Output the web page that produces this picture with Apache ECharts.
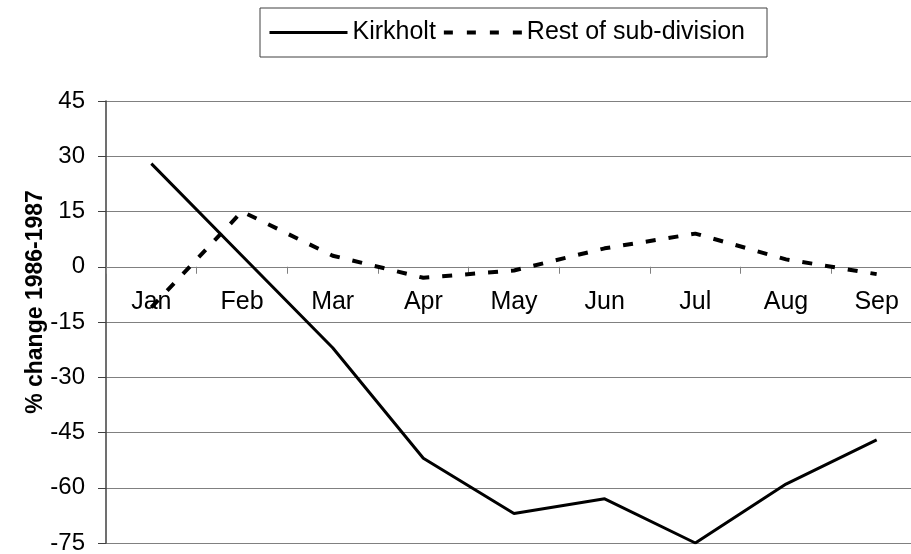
<!DOCTYPE html>
<html>
<head>
<meta charset="utf-8">
<script src="https://cdn.jsdelivr.net/npm/echarts@6/dist/echarts.min.js"></script>
<style>
  html, body { margin: 0; padding: 0; background: #fff; }
  #chart { width: 911px; height: 554px; }
</style>
</head>
<body>
<div id="chart"></div>
<script>
// values
var months = ['Jan', 'Feb', 'Mar', 'Apr', 'May', 'Jun', 'Jul', 'Aug', 'Sep'];
var kirkholt = [28, 3, -22, -52, -67, -63, -75, -59, -47];
var restOfSubDivision = [-11, 15, 3, -3, -1, 5, 9, 2, -2];

var font = '"Liberation Sans", Arial, sans-serif';
var yMin = -75, yMax = 45;
var gridTop = 101, gridBottom = 11;
// move the category axis up to the zero line
var plotH = 554 - gridTop - gridBottom;
var zeroOffset = -plotH * (0 - yMin) / (yMax - yMin);

var myChart = echarts.init(document.getElementById('chart'));
myChart.setOption({
    animation: false,
    backgroundColor: '#fff',
    legend: {
        left: 260,
        top: 8,
        padding: [12, 22, 12, 8],
        itemWidth: 78,
        itemHeight: 14,
        itemGap: 6,
        borderColor: '#404040',
        borderWidth: 1,
        itemStyle: { opacity: 0 },
        textStyle: { fontSize: 25, color: '#000', fontFamily: font },
        data: [
            { name: 'Kirkholt', lineStyle: { width: 3, color: '#000' } },
            { name: 'Rest of sub-division', lineStyle: { width: 4, color: '#000', type: [9, 14] } }
        ]
    },
    grid: {
        left: 106,
        right: -11,
        top: gridTop,
        bottom: gridBottom,
        outerBoundsMode: 'none'
    },
    xAxis: {
        type: 'category',
        data: months,
        boundaryGap: true,
        position: 'bottom',
        offset: zeroOffset,
        axisLine: { onZero: false, lineStyle: { color: '#808080', width: 1 } },
        axisTick: { show: true, interval: 0, length: 7, alignWithLabel: false, lineStyle: { color: '#808080' } },
        axisLabel: { margin: 23, fontSize: 25, color: '#000', fontFamily: font, interval: 0 },
        splitLine: { show: false }
    },
    yAxis: {
        type: 'value',
        min: yMin,
        max: yMax,
        interval: 15,
        name: '% change 1986-1987',
        nameLocation: 'middle',
        nameGap: 59,
        nameMoveOverlap: false,
        nameTextStyle: { fontSize: 23, fontWeight: 'bold', color: '#000', fontFamily: font, padding: [0, 0, 0, 40] },
        axisLine: { show: true, lineStyle: { color: '#404040', width: 1.5 } },
        axisTick: { show: true, length: 8, lineStyle: { color: '#404040' } },
        axisLabel: { margin: 21, fontSize: 24, color: '#000', fontFamily: font },
        splitLine: { show: true, lineStyle: { color: '#808080', width: 1 } }
    },
    series: [
        {
            name: 'Kirkholt',
            type: 'line',
            data: kirkholt,
            symbol: 'none',
            lineStyle: { color: '#000', width: 3 },
            itemStyle: { color: '#000' }
        },
        {
            name: 'Rest of sub-division',
            type: 'line',
            data: restOfSubDivision,
            symbol: 'none',
            lineStyle: { color: '#000', width: 4, type: [10, 13] },
            itemStyle: { color: '#000' }
        }
    ]
});
</script>
</body>
</html>
